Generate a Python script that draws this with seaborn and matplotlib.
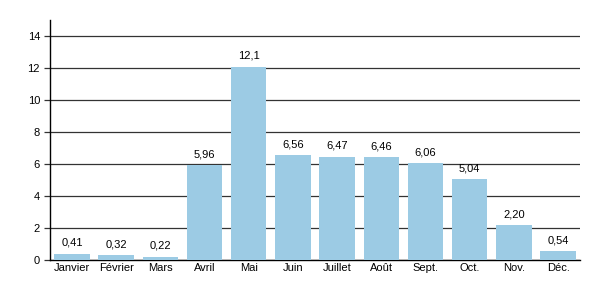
import matplotlib
matplotlib.use("Agg")
import matplotlib.pyplot as plt
import seaborn as sns
import pandas as pd

months = ["Janvier", "Février", "Mars", "Avril", "Mai", "Juin", "Juillet",
          "Août", "Sept.", "Oct.", "Nov.", "Déc."]
values = [0.41, 0.32, 0.22, 5.96, 12.1, 6.56, 6.47, 6.46, 6.06, 5.04, 2.20, 0.54]
labels = ["0,41", "0,32", "0,22", "5,96", "12,1", "6,56", "6,47", "6,46",
          "6,06", "5,04", "2,20", "0,54"]

sns.set_style("white")
plt.rcParams["font.family"] = ["Liberation Sans", "DejaVu Sans"]
plt.rcParams["text.color"] = "black"
plt.rcParams["xtick.color"] = "black"
plt.rcParams["ytick.color"] = "black"

df = pd.DataFrame({"mois": months, "val": values})
fig = plt.figure(figsize=(6, 3), dpi=100)
ax = fig.add_axes([0.083, 0.133, 0.884, 0.80])
sns.barplot(data=df, x="mois", y="val", color="#9ccbe4", saturation=1,
            width=0.8, ax=ax, zorder=3, linewidth=0)
ax.set_ylim(0, 15)
ax.set_yticks(range(0, 15, 2))
ax.set_xlim(-0.5, 11.5)
ax.yaxis.grid(True, color="#333333", linewidth=0.9, zorder=0)
ax.set_axisbelow(True)
for s in ["top", "right"]:
    ax.spines[s].set_visible(False)
for s in ["left", "bottom"]:
    ax.spines[s].set_color("black")
    ax.spines[s].set_linewidth(1.0)
ax.tick_params(axis="y", length=4, width=0.9, color="#333333", labelsize=8,
               labelcolor="black", pad=3, left=True)
ax.tick_params(axis="x", length=0, labelsize=8, labelcolor="black", pad=2)
ax.set_xlabel("")
ax.set_ylabel("")
for i, (v, t) in enumerate(zip(values, labels)):
    ax.text(i, v + 0.35, t, ha="center", va="bottom", fontsize=8, color="black")
fig.savefig("out.png", dpi=100)
